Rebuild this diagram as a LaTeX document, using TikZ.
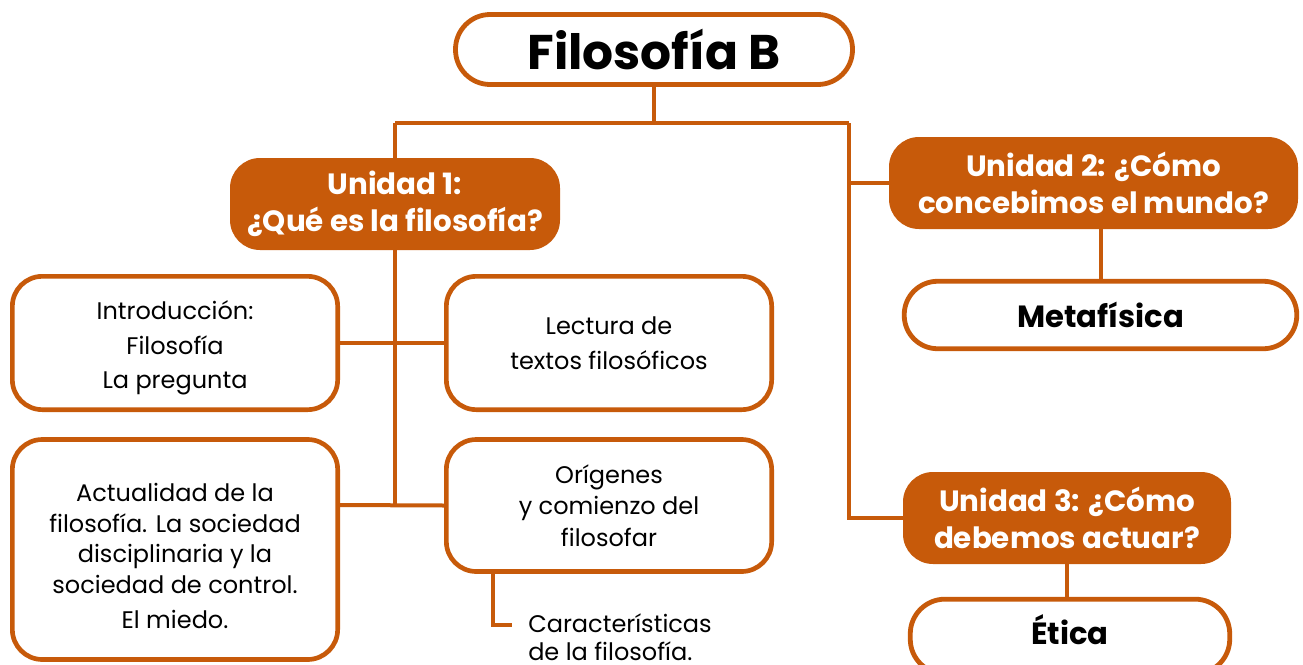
\documentclass[tikz,border=0pt]{standalone}
\usepackage{fontspec}
\setmainfont{Poppins}
\usetikzlibrary{backgrounds}
\definecolor{org}{RGB}{199,90,10}
\begin{document}
\begin{tikzpicture}[x=0.75pt,y=-0.75pt,
  conn/.style={draw=org,line width=3pt},
  wbox/.style={draw=org,line width=3.5pt,fill=white,rounded corners=22.5pt,align=center,inner sep=0pt,
    font=\fontsize{18}{26}\selectfont},
  pill/.style={draw=org,line width=3.6pt,fill=white,align=center,inner sep=0pt,font=\bfseries\fontsize{23}{28}\selectfont},
  ubox/.style={fill=org,text=white,rounded corners=22.5pt,align=center,inner sep=0pt,
    font=\bfseries\fontsize{22}{27.75}\selectfont},
  btext/.style={align=center,inner sep=0pt,font=\fontsize{18}{23}\selectfont}]
\useasboundingbox (0,0) rectangle (1303,664);
% nodes
\node[pill,rounded corners=26pt,minimum width=297.75pt,minimum height=52.5pt,font=\bfseries\fontsize{36.5}{42}\selectfont] (title) at (654,49.5) {Filosofía B};
\node[ubox,minimum width=247.5pt,minimum height=69pt] (u1) at (395,204) {Unidad 1:\\¿Qué es la filosofía?};
\node[ubox,minimum width=306.75pt,minimum height=69pt] (u2) at (1093.5,183) {Unidad 2: ¿Cómo\\concebimos el mundo?};
\node[ubox,minimum width=246pt,minimum height=69pt] (u3) at (1067,518) {Unidad 3: ¿Cómo\\debemos actuar?};
\node[pill,rounded corners=25pt,minimum width=294.4pt,minimum height=50.6pt] (meta) at (1100.5,315) {Metafísica};
\node[pill,rounded corners=26pt,minimum width=239.6pt,minimum height=56pt] (etica) at (1070,636.5) {\raisebox{10pt}{Ética}};
\node[wbox,minimum width=244pt,minimum height=100pt] (intro) at (175,343) {};
\node[btext,font=\fontsize{18}{26}\selectfont] (introtext) at (175,348) {Introducción:\\Filosofía\\La pregunta};
\node[wbox,minimum width=244pt,minimum height=100pt] (lect) at (609,343) {Lectura de\\textos filosóficos};
\node[wbox,minimum width=244pt,minimum height=165pt] (act) at (175,549.5) {};
\node[btext] (acttext) at (175,556) {Actualidad de la\\filosofía. La sociedad\\disciplinaria y la\\sociedad de control.\\[3.5pt]El miedo.};
\node[wbox,minimum width=244pt,minimum height=99pt,font=\fontsize{18}{23.6}\selectfont] (orig) at (609,505.5) {Orígenes\\y comienzo del\\filosofar};
\node[align=left,anchor=west,inner sep=0pt,font=\fontsize{18}{21}\selectfont] (carac) at (528,637) {Características\\de la filosofía.};
% junction coordinates
\coordinate (jt) at (title.south |- 0,123);
\coordinate (jl) at (u1.north |- 0,123);
\coordinate (jr) at (849,123);
\coordinate (j2) at (849,183);
\coordinate (j3) at (849,518);
\coordinate (sp) at (395,505);
\coordinate (ob) at (493,574);
\coordinate (ce) at (512,625);
\begin{scope}[on background layer]
\draw[conn] (title.south) -- (jt);
\draw[conn] (jl) -- (jr);
\draw[conn] (jl) -- (u1.north);
\draw[conn] (u1.south) -- (sp);
\draw[conn] (jr) -- (j3) -- (u3.west);
\draw[conn] (j2) -- (u2.west);
\draw[conn] (u2.south -| meta.north) -- (meta.north);
\draw[conn] (u3.south) -- (u3.south |- etica.north);
\draw[conn] (intro.east) -- (lect.west);
\draw[conn] (act.east |- sp) -- (orig.west);
\draw[conn] (ob) |- (ce);
\end{scope}
\end{tikzpicture}
\end{document}
